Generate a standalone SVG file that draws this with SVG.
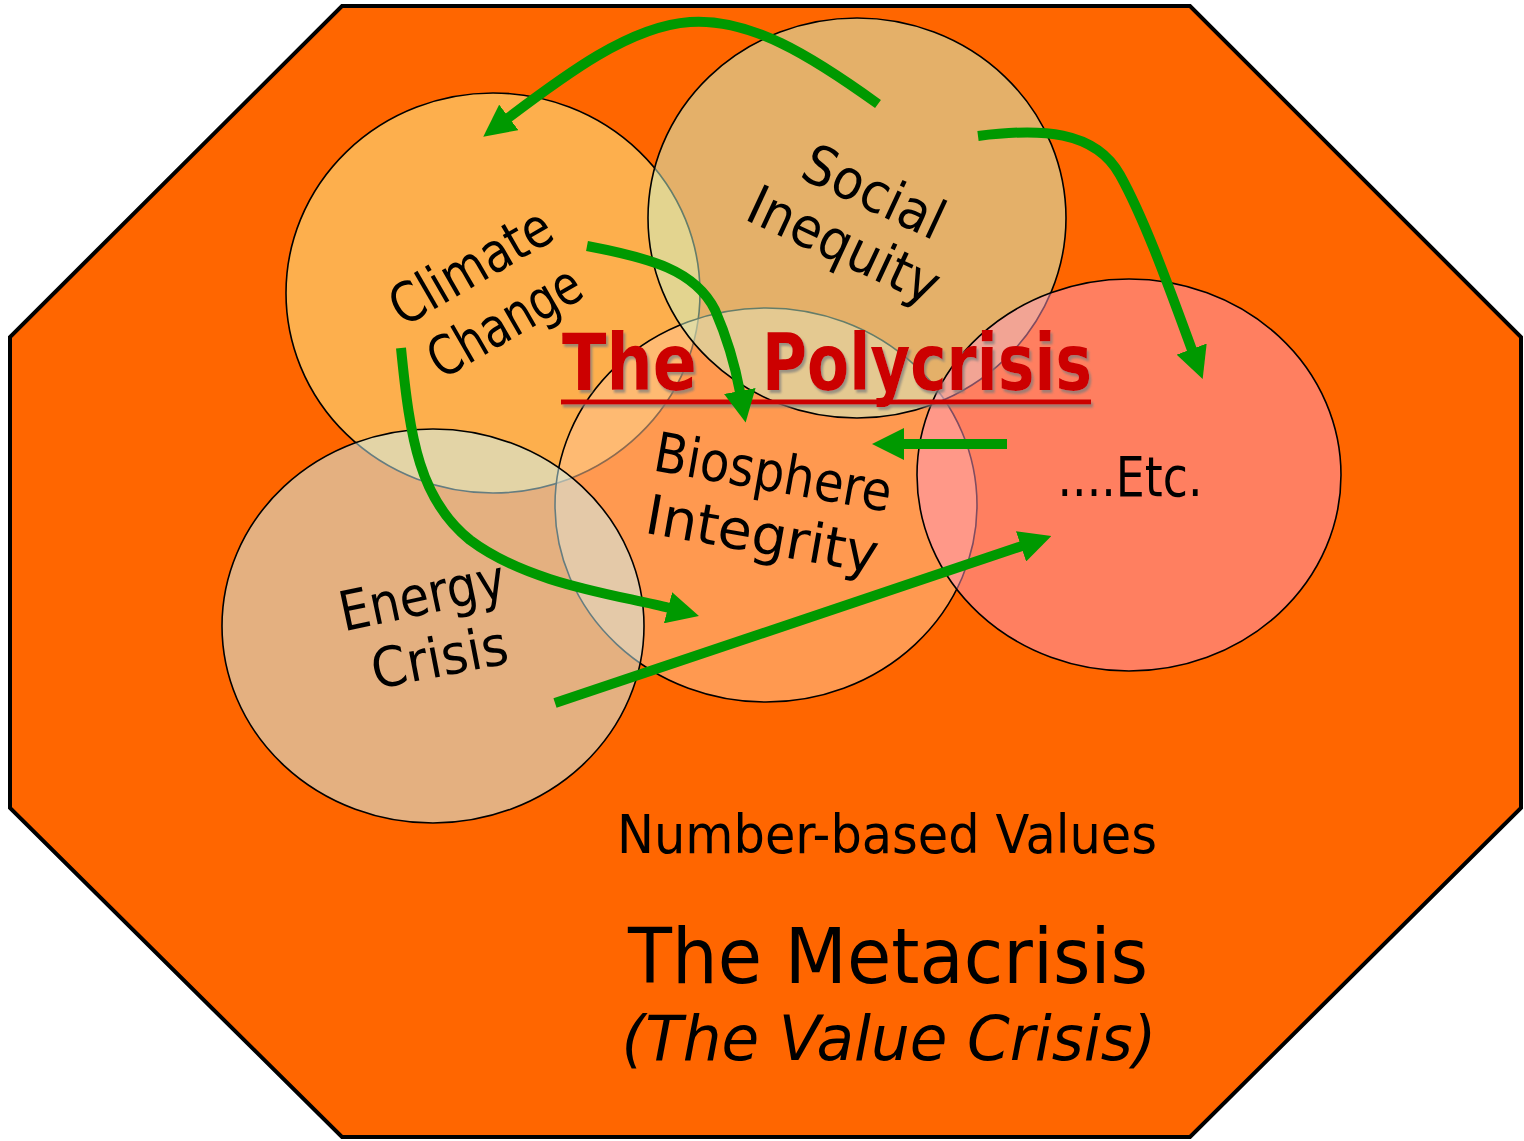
<svg xmlns="http://www.w3.org/2000/svg" width="1524" height="1141" viewBox="0 0 1524 1141">
  <defs>
    <style>
      .circ { stroke: #000; stroke-width: 1.6; }
      .lbl { font-family: "Comic Sans MS", "DejaVu Sans", sans-serif; font-size: 55px; fill: #000; text-anchor: middle; }
      .big { font-family: "Comic Sans MS", "DejaVu Sans", sans-serif; fill: #000; text-anchor: middle; }
      .arrow { fill: none; stroke: #009900; stroke-width: 10; marker-end: url(#head); }
      .title { font-family: "Comic Sans MS", "DejaVu Sans", sans-serif; font-weight: bold; font-size: 78px; fill: #CC0000; }
    </style>
    <marker id="head" markerUnits="userSpaceOnUse" viewBox="0 -16 32 32" refX="1" refY="0" markerWidth="32" markerHeight="32" orient="auto">
      <path d="M0,-16 L32,0 L0,16 Z" fill="#009900"/>
    </marker>
    <filter id="shadow" x="-10%" y="-20%" width="120%" height="150%">
      <feDropShadow dx="2" dy="3" stdDeviation="1.2" flood-color="#7a7a7a" flood-opacity="0.7"/>
    </filter>
  </defs>

  <g id="metacrisis">
    <polygon points="342,6 1190,6 1521,337 1521,808 1190,1137 342,1137 10,808 10,337" fill="#FF6600" stroke="#000" stroke-width="4"/>
  </g>

  <g id="climate-change">
    <ellipse class="circ" cx="493" cy="293" rx="207" ry="200" fill="#FDAF4D"/>
    <text class="lbl" transform="translate(480,283) rotate(-30)" textLength="178" lengthAdjust="spacingAndGlyphs">Climate</text>
    <text class="lbl" transform="translate(514,338) rotate(-30)" textLength="168" lengthAdjust="spacingAndGlyphs">Change</text>
  </g>

  <g id="biosphere-integrity">
    <ellipse class="circ" cx="766" cy="505" rx="211" ry="197" fill="rgb(255,195,145)" fill-opacity="0.55"/>
    <text class="lbl" transform="translate(770,491) rotate(10)" textLength="240" lengthAdjust="spacingAndGlyphs">Biosphere</text>
    <text class="lbl" transform="translate(759,553) rotate(10)" textLength="235" lengthAdjust="spacingAndGlyphs">Integrity</text>
  </g>

  <g id="social-inequity">
    <ellipse class="circ" cx="857" cy="218" rx="209" ry="200" fill="rgb(201,250,210)" fill-opacity="0.5"/>
    <text class="lbl" transform="translate(866,209) rotate(25)" textLength="150" lengthAdjust="spacingAndGlyphs">Social</text>
    <text class="lbl" transform="translate(836,262) rotate(25)" textLength="205" lengthAdjust="spacingAndGlyphs">Inequity</text>
  </g>

  <g id="energy-crisis">
    <ellipse class="circ" cx="433" cy="626" rx="211" ry="197" fill="rgb(201,250,255)" fill-opacity="0.5"/>
    <text class="lbl" transform="translate(426,614) rotate(-12)" textLength="168" lengthAdjust="spacingAndGlyphs">Energy</text>
    <text class="lbl" transform="translate(443,676) rotate(-11)" textLength="138" lengthAdjust="spacingAndGlyphs">Crisis</text>
  </g>

  <g id="etc">
    <ellipse class="circ" cx="1129" cy="475" rx="212" ry="196" fill="rgb(255,152,192)" fill-opacity="0.5"/>
    <text class="lbl" x="1130" y="496" textLength="145" lengthAdjust="spacingAndGlyphs">....Etc.</text>
  </g>

  <g id="polycrisis-title" filter="url(#shadow)">
    <text class="title" y="390"><tspan x="562" textLength="135" lengthAdjust="spacingAndGlyphs">The</tspan><tspan x="762" textLength="330" lengthAdjust="spacingAndGlyphs">Polycrisis</tspan></text>
    <line x1="561" y1="402" x2="1091" y2="402" stroke="#CC0000" stroke-width="5"/>
  </g>

  <g id="metacrisis-labels">
    <text class="big" x="887" y="853" font-size="54" textLength="540" lengthAdjust="spacingAndGlyphs">Number-based Values</text>
    <text class="big" x="888" y="983" font-size="76" textLength="520" lengthAdjust="spacingAndGlyphs">The Metacrisis</text>
    <text class="big" x="889" y="1060" font-size="63" font-style="italic" textLength="535" lengthAdjust="spacingAndGlyphs">(The Value Crisis)</text>
  </g>

  <g id="connectors">
    <path class="arrow" d="M878,104 C810,55 750,18 690,22 C630,26 565,75 508,118"/>
    <path class="arrow" d="M978,136 C1040,128 1095,130 1120,175 C1145,220 1170,290 1192,350"/>
    <path class="arrow" d="M587,246 C650,258 695,270 715,310 C728,340 735,365 740,392"/>
    <path class="arrow" d="M401,348 C410,440 420,500 470,540 C530,585 620,595 669,608"/>
    <path class="arrow" d="M1007,444 L903,444"/>
    <path class="arrow" d="M555,703 L1022,546"/>
  </g>
</svg>
